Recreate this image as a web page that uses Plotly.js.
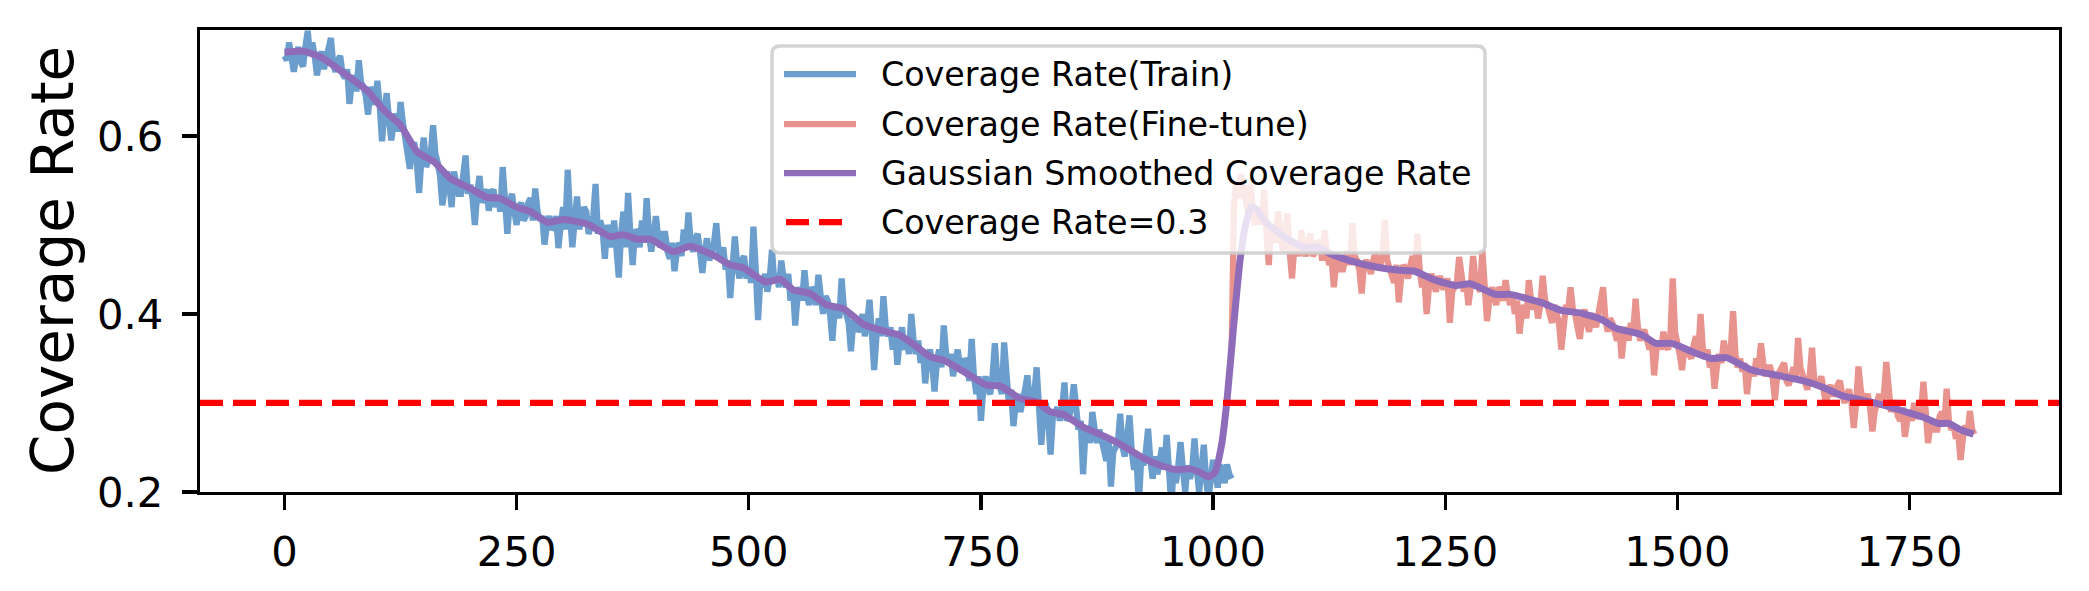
<!DOCTYPE html>
<html>
<head>
<meta charset="utf-8">
<script src="https://cdn.plot.ly/plotly-3.0.1.min.js"></script>
<style>html,body{margin:0;padding:0;background:#fff;}#chart{width:2089px;height:591px;}</style>
</head>
<body>
<div id="chart"></div>
<script>
// ---- data ----
const trainStart = 0, trainStep = 2.5;
const trainValues = [
0.69,0.685,0.705,0.69,0.672,0.688,0.70,0.683,0.678,0.70,0.718,0.69,0.705,0.69,0.668,0.685,0.695,0.675,0.685,0.695,
0.71,0.68,0.672,0.685,0.69,0.67,0.665,0.675,0.636,0.66,0.668,0.65,0.685,0.66,0.655,0.645,0.624,0.655,0.648,0.635,
0.662,0.635,0.594,0.625,0.648,0.62,0.595,0.615,0.625,0.605,0.638,0.615,0.60,0.585,0.563,0.59,0.59,0.57,0.536,0.575,
0.598,0.565,0.575,0.58,0.612,0.58,0.57,0.555,0.522,0.55,0.56,0.545,0.52,0.56,0.55,0.535,0.535,0.555,0.578,0.535,
0.545,0.53,0.50,0.535,0.555,0.525,0.535,0.54,0.516,0.535,0.54,0.52,0.53,0.515,0.565,0.52,0.49,0.525,0.535,0.515,
0.50,0.52,0.525,0.505,0.51,0.525,0.53,0.505,0.541,0.515,0.505,0.51,0.478,0.50,0.51,0.495,0.498,0.51,0.474,0.50,
0.52,0.495,0.562,0.51,0.475,0.505,0.532,0.495,0.505,0.52,0.515,0.49,0.498,0.51,0.546,0.49,0.505,0.495,0.462,0.50,
0.49,0.475,0.505,0.48,0.441,0.49,0.515,0.475,0.536,0.49,0.455,0.495,0.49,0.475,0.505,0.48,0.53,0.49,0.47,0.49,
0.51,0.485,0.475,0.49,0.49,0.47,0.462,0.48,0.448,0.47,0.48,0.465,0.495,0.475,0.514,0.48,0.47,0.485,0.49,0.47,
0.446,0.47,0.485,0.46,0.47,0.48,0.502,0.47,0.462,0.475,0.45,0.46,0.418,0.45,0.487,0.455,0.44,0.46,0.465,0.44,
0.45,0.435,0.498,0.45,0.393,0.44,0.43,0.445,0.425,0.44,0.472,0.435,0.445,0.43,0.46,0.44,0.43,0.445,0.415,0.43,
0.387,0.42,0.43,0.415,0.449,0.42,0.41,0.43,0.425,0.41,0.444,0.42,0.40,0.42,0.415,0.40,0.37,0.405,0.41,0.395,
0.44,0.405,0.40,0.39,0.358,0.39,0.395,0.38,0.385,0.40,0.375,0.39,0.416,0.38,0.337,0.375,0.395,0.375,0.42,0.385,
0.375,0.385,0.36,0.38,0.343,0.37,0.385,0.36,0.37,0.355,0.40,0.37,0.355,0.37,0.345,0.36,0.322,0.35,0.36,0.345,
0.313,0.345,0.36,0.34,0.387,0.355,0.345,0.355,0.33,0.345,0.36,0.34,0.335,0.35,0.345,0.325,0.372,0.33,0.31,0.33,
0.28,0.315,0.33,0.315,0.31,0.33,0.367,0.33,0.32,0.31,0.368,0.32,0.30,0.315,0.274,0.30,0.31,0.29,0.30,0.315,
0.331,0.305,0.30,0.31,0.34,0.30,0.253,0.29,0.30,0.28,0.242,0.285,0.29,0.295,0.28,0.295,0.323,0.28,0.285,0.295,
0.321,0.285,0.27,0.28,0.22,0.265,0.27,0.255,0.29,0.27,0.255,0.27,0.26,0.25,0.235,0.26,0.206,0.245,0.25,0.255,
0.288,0.25,0.24,0.26,0.286,0.245,0.225,0.24,0.185,0.235,0.23,0.245,0.271,0.235,0.215,0.24,0.22,0.235,0.25,0.225,
0.264,0.225,0.185,0.225,0.21,0.23,0.256,0.225,0.20,0.23,0.215,0.225,0.26,0.225,0.20,0.225,0.253,0.215,0.19,0.215,
0.236,0.22,0.205,0.23,0.225,0.21,0.231,0.22,0.215
];
const fineStart = 1020, fineStep = 2.5;
const fineValues = [
0.36,0.52,0.55,0.53,0.557,0.54,0.53,0.515,0.545,0.52,0.50,0.51,0.52,0.50,0.539,0.49,0.455,0.50,0.49,0.48,
0.515,0.49,0.47,0.485,0.513,0.47,0.44,0.475,0.48,0.465,0.494,0.475,0.465,0.48,0.49,0.465,0.47,0.48,0.482,0.46,
0.494,0.47,0.455,0.465,0.43,0.455,0.465,0.45,0.45,0.465,0.47,0.455,0.502,0.465,0.46,0.45,0.423,0.455,0.46,0.455,
0.445,0.46,0.47,0.45,0.455,0.465,0.506,0.46,0.45,0.445,0.435,0.455,0.413,0.44,0.455,0.45,0.44,0.455,0.465,0.445,
0.49,0.45,0.43,0.44,0.40,0.43,0.445,0.435,0.425,0.44,0.44,0.43,0.43,0.44,0.39,0.425,0.43,0.435,0.464,0.44,
0.425,0.435,0.41,0.43,0.465,0.44,0.43,0.425,0.472,0.43,0.392,0.415,0.43,0.42,0.41,0.43,0.425,0.415,0.438,0.42,
0.41,0.42,0.40,0.415,0.378,0.40,0.41,0.395,0.438,0.415,0.405,0.415,0.395,0.41,0.443,0.415,0.41,0.40,0.39,0.41,
0.40,0.39,0.36,0.395,0.41,0.405,0.43,0.405,0.40,0.385,0.372,0.395,0.405,0.39,0.38,0.40,0.395,0.385,0.40,0.405,
0.43,0.395,0.38,0.395,0.39,0.38,0.37,0.385,0.35,0.375,0.385,0.37,0.39,0.38,0.417,0.385,0.37,0.38,0.38,0.37,
0.36,0.37,0.331,0.36,0.37,0.36,0.38,0.365,0.36,0.375,0.44,0.38,0.37,0.355,0.337,0.36,0.36,0.355,0.35,0.365,
0.375,0.355,0.40,0.36,0.35,0.36,0.34,0.35,0.316,0.34,0.355,0.345,0.37,0.355,0.35,0.36,0.403,0.355,0.34,0.35,
0.335,0.345,0.31,0.335,0.34,0.33,0.35,0.34,0.367,0.345,0.33,0.34,0.34,0.33,0.303,0.33,0.335,0.34,0.345,0.325,
0.32,0.33,0.34,0.325,0.373,0.34,0.33,0.32,0.315,0.33,0.362,0.325,0.32,0.32,0.33,0.315,0.297,0.315,0.32,0.31,
0.31,0.32,0.325,0.31,0.30,0.31,0.315,0.30,0.272,0.30,0.341,0.315,0.30,0.305,0.31,0.295,0.268,0.29,0.30,0.31,
0.295,0.31,0.346,0.305,0.29,0.30,0.30,0.285,0.28,0.295,0.262,0.28,0.29,0.28,0.30,0.285,0.285,0.29,0.324,0.29,
0.255,0.275,0.28,0.27,0.27,0.285,0.29,0.275,0.316,0.28,0.27,0.275,0.26,0.265,0.236,0.26,0.275,0.265,0.291,0.27,0.265
];
const smoothX = [0,21,40,57,75,89,107,125,143,161,179,200,218,232,250,265,283,301,326,351,365,380,394,419,437,462,480,494,518,534,548,566,584,602,624,645,663,681,695,710,735,756,771,792,810,825,839,860,882,903,925,943,961,975,986,995,1002,1009,1015,1022,1029,1035,1041,1046,1058,1079,1097,1112,1130,1147,1174,1201,1217,1239,1261,1277,1304,1320,1353,1375,1396,1418,1434,1461,1477,1494,1515,1537,1553,1580,1608,1635,1656,1678,1700,1721,1743,1765,1781,1792,1805,1819];
const smoothY = [0.694,0.695,0.688,0.676,0.662,0.651,0.629,0.612,0.582,0.571,0.552,0.541,0.531,0.530,0.520,0.515,0.503,0.506,0.501,0.487,0.489,0.484,0.484,0.470,0.476,0.466,0.455,0.452,0.436,0.439,0.427,0.423,0.410,0.406,0.388,0.381,0.376,0.363,0.352,0.348,0.333,0.320,0.319,0.305,0.301,0.290,0.287,0.273,0.263,0.252,0.238,0.230,0.225,0.226,0.222,0.217,0.222,0.252,0.303,0.385,0.460,0.500,0.520,0.518,0.502,0.485,0.475,0.475,0.466,0.460,0.453,0.449,0.448,0.438,0.432,0.434,0.422,0.422,0.413,0.404,0.401,0.394,0.384,0.377,0.367,0.367,0.358,0.350,0.351,0.337,0.331,0.325,0.318,0.308,0.303,0.298,0.291,0.284,0.277,0.277,0.270,0.265];
const thresholdValue = 0.3;
const xTickVals = [0,250,500,750,1000,1250,1500,1750];
const yTickVals = [0.2,0.4,0.6];
const seriesNames = ["Coverage Rate(Train)","Coverage Rate(Fine-tune)","Gaussian Smoothed Coverage Rate","Coverage Rate=0.3"];

// ---- styles ----
const FONT = "DejaVu Sans, Liberation Sans, sans-serif";
const C_TRAIN = "#6b9ecd", C_FINE = "#e8938e", C_SMOOTH = "#8f6cb9", C_RED = "#ff0000";
const LW = 6.25;
const W = 2089, H = 591;
const M = {l:200, r:30, t:30, b:99};
const PW = W - M.l - M.r, PH = H - M.t - M.b;
const px = v => (v - M.l) / PW;          // pixel x -> paper
const py = v => (H - M.b - v) / PH;      // pixel y -> paper

const trainX = trainValues.map((_, i) => trainStart + i * trainStep);
const fineX = fineValues.map((_, i) => fineStart + i * fineStep);

const traces = [
  {x: trainX, y: trainValues, type: "scatter", mode: "lines", name: seriesNames[0],
   line: {color: C_TRAIN, width: LW}, hoverinfo: "skip"},
  {x: fineX, y: fineValues, type: "scatter", mode: "lines", name: seriesNames[1],
   line: {color: C_FINE, width: LW}, hoverinfo: "skip"},
  {x: smoothX, y: smoothY, type: "scatter", mode: "lines", name: seriesNames[2],
   line: {color: C_SMOOTH, width: 7, shape: "spline", smoothing: 0.5}, hoverinfo: "skip"}
];

// legend (matplotlib-like box)
const bx0 = px(772), bx1 = px(1485), by0 = py(253), by1 = py(46);
const rx = 8 / PW, ry = 8 / PH;
const boxPath = `M${bx0+rx},${by0} L${bx1-rx},${by0} Q${bx1},${by0} ${bx1},${by0+ry} L${bx1},${by1-ry} Q${bx1},${by1} ${bx1-rx},${by1} L${bx0+rx},${by1} Q${bx0},${by1} ${bx0},${by1-ry} L${bx0},${by0+ry} Q${bx0},${by0} ${bx0+rx},${by0} Z`;
const rowY = [74, 124, 173, 222];
const rowColor = [C_TRAIN, C_FINE, C_SMOOTH, C_RED];

const shapes = [
  {type: "line", xref: "paper", x0: 0, x1: 1, yref: "y", y0: thresholdValue, y1: thresholdValue,
   line: {color: C_RED, width: LW, dash: "23px,10px"}, layer: "above"},
  {type: "path", xref: "paper", yref: "paper", path: boxPath, layer: "above",
   fillcolor: "rgba(255,255,255,0.8)", line: {color: "rgba(204,204,204,0.85)", width: 3.5}}
];
const annotations = [
  {text: "Coverage Rate", xref: "paper", yref: "paper", x: px(53), y: 0.5, textangle: -90,
   xanchor: "center", yanchor: "middle", showarrow: false,
   font: {family: FONT, size: 58, color: "#000"}}
];
rowY.forEach((yy, i) => {
  const dashed = i === 3;
  shapes.push({type: "line", xref: "paper", yref: "paper",
    x0: px(dashed ? 786 : 784), x1: px(dashed ? 845 : 856), y0: py(yy), y1: py(yy), layer: "above",
    line: {color: rowColor[i], width: LW, dash: dashed ? "23px,10px" : "solid"}});
  annotations.push({text: seriesNames[i], xref: "paper", yref: "paper", x: px(879), y: py(yy),
    xanchor: "left", yanchor: "middle", showarrow: false,
    font: {family: FONT, size: 33.3, color: "#000"}});
});

const axisCommon = {
  showgrid: false, zeroline: false, showline: true, mirror: true,
  linecolor: "#000", linewidth: 3.3, ticks: "outside", ticklen: 15, tickwidth: 3.3,
  tickcolor: "#000", tickfont: {family: FONT, size: 41.7, color: "#000"}
};

const layout = {
  width: W, height: H, margin: M,
  paper_bgcolor: "#fff", plot_bgcolor: "#fff",
  showlegend: false,
  xaxis: Object.assign({}, axisCommon, {range: [-91, 1911], tickmode: "array", tickvals: xTickVals,
    ticklabelstandoff: 6}),
  yaxis: Object.assign({}, axisCommon, {range: [0.2, 0.719], tickmode: "array", tickvals: yTickVals,
    tickformat: ".1f", ticklabelstandoff: 10}),
  shapes: shapes,
  annotations: annotations
};

Plotly.newPlot("chart", traces, layout, {staticPlot: true, displayModeBar: false});
</script>
</body>
</html>
